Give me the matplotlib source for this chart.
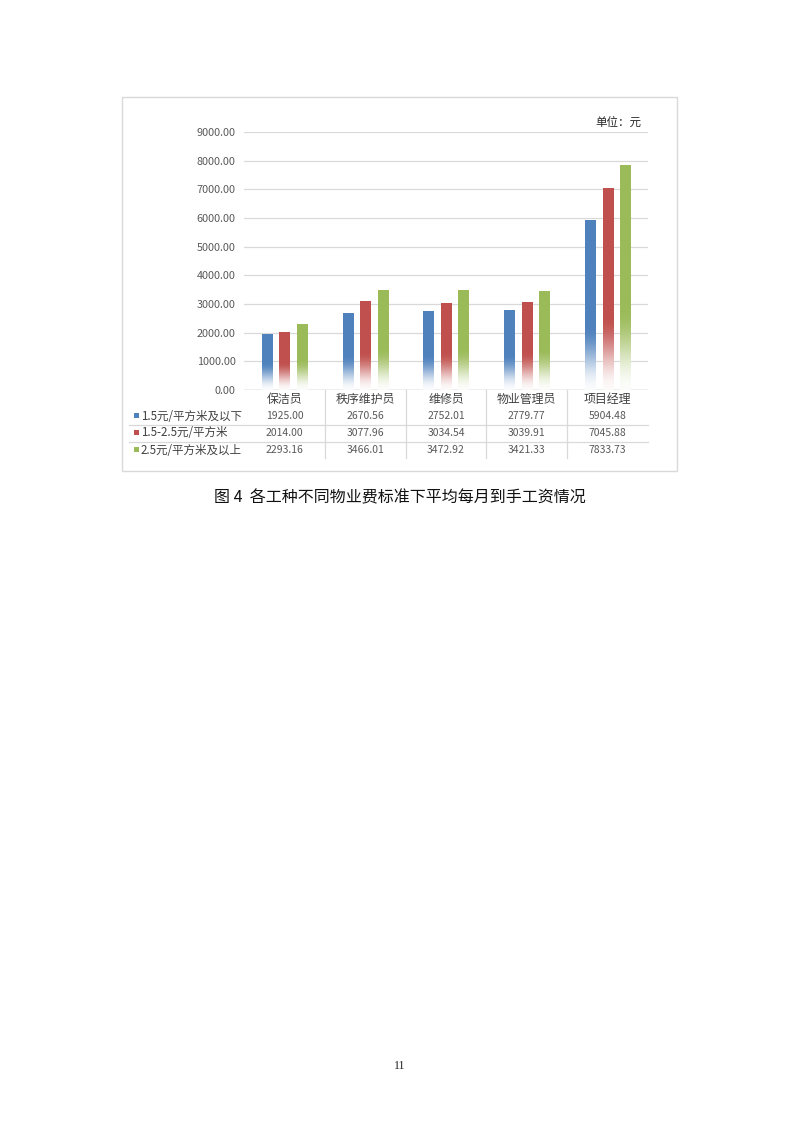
import numpy as np
import matplotlib
matplotlib.use("Agg")
import matplotlib.pyplot as plt
from matplotlib.colors import to_rgb
from matplotlib.transforms import blended_transform_factory

plt.rcParams['font.family'] = ['Noto Sans CJK SC', 'DejaVu Sans']

categories = ['保洁员', '秩序维护员', '维修员', '物业管理员', '项目经理']
series_names = ['1.5元/平方米及以下', '1.5-2.5元/平方米', '2.5元/平方米及以上']
low = [1925.00, 2670.56, 2752.01, 2779.77, 5904.48]
mid = [2014.00, 3077.96, 3034.54, 3039.91, 7045.88]
high = [2293.16, 3466.01, 3472.92, 3421.33, 7833.73]
yticks = [0, 1000, 2000, 3000, 4000, 5000, 6000, 7000, 8000, 9000]
unit_label = '单位：元'
caption = '图 4  各工种不同物业费标准下平均每月到手工资情况'
page_no = '11'

colors = ['#4F81BD', '#C0504D', '#9BBB59']
series = [low, mid, high]
txt_gray = '#595959'

W, H = 800, 1130
fig = plt.figure(figsize=(W / 100, H / 100), dpi=100)
fig.patch.set_facecolor('white')

# page overlay, pixel coords
over = fig.add_axes([0, 0, 1, 1], zorder=0)
over.set_xlim(0, W)
over.set_ylim(H, 0)
over.axis('off')
over.add_patch(plt.Rectangle((122, 97), 555, 374, fill=False,
                             edgecolor='#d9d9d9', lw=1.0))

ax = fig.add_axes([244 / W, 1 - 390 / H, (648 - 244) / W, (390 - 132) / H], zorder=1)
ax.patch.set_visible(False)

n = len(categories)
x = np.arange(n)
bw = 0.125
offs = [-0.216, 0, 0.216]

# bars with a white fade at the bottom
grad_n = 300
for s, (vals, col) in enumerate(zip(series, colors)):
    rgb = np.array(to_rgb(col))
    for i, v in enumerate(vals):
        yy = np.linspace(0, v, grad_n)
        fade_top = 0.32 * v + 350
        t = np.clip(yy / fade_top, 0, 1)
        a = t * t * (3 - 2 * t)
        a = 0.03 + 0.97 * a
        img = a[:, None] * rgb[None, :] + (1 - a[:, None])
        img = img[::-1][:, None, :]
        ax.imshow(img, extent=(x[i] + offs[s] - bw / 2, x[i] + offs[s] + bw / 2, 0, v),
                  aspect='auto', interpolation='bilinear', zorder=2)

ax.set_xlim(-0.5, n - 0.5)
ax.set_ylim(0, 9000)
ax.set_yticks(yticks)
ax.set_yticklabels(['%.2f' % t for t in yticks], color=txt_gray, fontsize=7.8)
ax.set_xticks([])
ax.tick_params(axis='y', length=0, pad=6)
for sp in ax.spines.values():
    sp.set_visible(False)
ax.set_axisbelow(True)
ax.yaxis.grid(True, color='#d9d9d9', lw=0.9)
ax.axhline(0, color='#bfbfbf', lw=1.0, zorder=1)

# data table
tr = blended_transform_factory(ax.transData, over.transData)
row_y = [416, 433, 450]
for i, c in enumerate(categories):
    ax.text(x[i], 399, c, transform=tr, ha='center', va='center',
            fontsize=8.6, color='#404040')
    for r, vals in enumerate(series):
        ax.text(x[i], row_y[r], '%.2f' % vals[i], transform=tr,
                ha='center', va='center', fontsize=7.5, color=txt_gray)
for b in np.arange(0.5, n - 0.5, 1.0):
    ax.plot([b, b], [390, 458], transform=tr, color='#d9d9d9', lw=0.9, clip_on=False)
for ly in [424.5, 441.5]:
    over.plot([129, 648], [ly, ly], color='#d9d9d9', lw=0.9)

for r, (name, col) in enumerate(zip(series_names, colors)):
    over.add_patch(plt.Rectangle((134, row_y[r] - 3), 5, 5, color=col, lw=0))
    over.text(141, row_y[r], name, ha='left', va='center', fontsize=8.3, color='#404040')

over.text(641, 122, unit_label, ha='right', va='center', fontsize=8.3, color='#262626')
over.text(400, 498, caption, ha='center', va='center', fontsize=11.5, color='#111111')
over.text(400, 1066, page_no, ha='center', va='center', fontsize=8.5,
          family='Liberation Serif', color='#222222')

fig.savefig('out.png', dpi=100, facecolor='white')
